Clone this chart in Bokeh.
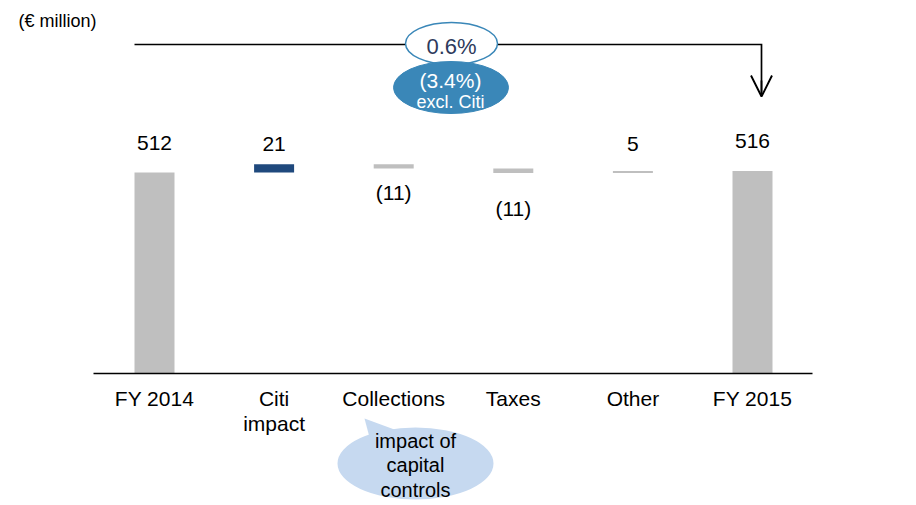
from bokeh.plotting import figure
from bokeh.models import Range1d, ColumnDataSource, Arrow, OpenHead
from bokeh.core.properties import value
from bokeh.embed import file_html
from bokeh.resources import INLINE

# ---------------- data ----------------
categories = ["FY 2014", "Citi\nimpact", "Collections", "Taxes", "Other", "FY 2015"]
changes = [512, 21, -11, -11, 5, 516]
kinds = ["total", "delta", "delta", "delta", "delta", "total"]
value_labels = ["512", "21", "(11)", "(11)", "5", "516"]
growth_label = "0.6%"
growth_excl_label = "(3.4%)"
growth_excl_note = "excl. Citi"
note_label = "impact of\ncapital\ncontrols"
unit_label = "(€ million)"

# ---------------- styles ----------------
bar_colors = ["#bfbfbf", "#1f497d", "#bfbfbf", "#bfbfbf", "#bfbfbf", "#bfbfbf"]
label_gap_px = [29, 20, 24, 36, 27, 30]
FONT = "Liberation Sans"

W, H = 916, 505
STEP = 119.6          # px between categories
PPU_Y = 0.3926        # px per € million
X0 = -154 / STEP
X1 = X0 + W / STEP
Y0 = -(H - 373) / PPU_Y
Y1 = Y0 + H / PPU_Y
ppu_x = W / (X1 - X0)
ppu_y = H / (Y1 - Y0)


def px_x(page_x):
    return X0 + page_x / ppu_x


def px_y(page_y):
    return Y1 - page_y / ppu_y


# waterfall geometry from values
bottoms, tops = [], []
running = 0
for v, k in zip(changes, kinds):
    if k == "total":
        b, t = 0, v
        running = v
    else:
        b, t = running, running + v
        running += v
    bottoms.append(min(b, t))
    tops.append(max(b, t))

idx = list(range(len(categories)))

p = figure(width=W, height=H, output_backend="svg", toolbar_location=None,
           x_range=Range1d(X0, X1), y_range=Range1d(Y0, Y1),
           x_axis_type=None, y_axis_type=None, min_border=0)
p.outline_line_color = None
p.grid.visible = False
p.background_fill_color = "white"
p.border_fill_color = "white"

bar_w = 40 / ppu_x
src = ColumnDataSource(dict(x=idx, bottom=bottoms, top=tops, color=bar_colors))
p.vbar(x="x", width=bar_w, bottom="bottom", top="top", fill_color="color",
       line_color=None, source=src)

# baseline
p.line(x=[px_x(93), px_x(812)], y=[0, 0], line_color="black", line_width=1.5)

# value labels
ly = []
for v, b, t, g in zip(changes, bottoms, tops, label_gap_px):
    if v >= 0:
        ly.append(t + g / ppu_y)
    else:
        ly.append(b - g / ppu_y)
p.text(x=idx, y=ly, text=value_labels, text_align="center", text_baseline="middle",
       text_font=value(FONT), text_font_size="21px", text_color="black")

# category labels
p.text(x=idx, y=[-13 / ppu_y] * len(idx), text=categories, text_align="center",
       text_baseline="top", text_font=value(FONT), text_font_size="21px",
       text_color="black", text_line_height=1.1)

# unit label
p.text(x=[px_x(18)], y=[px_y(20)], text=[unit_label], text_align="left",
       text_baseline="middle", text_font=value(FONT), text_font_size="18px",
       text_color="black")

# bracket with arrow
xb0 = 0 - bar_w / 2
xb1 = 5 + 9 / ppu_x
yb = px_y(44)
ytip = px_y(96)
p.line(x=[xb0, xb1, xb1], y=[yb, yb, ytip + 2 / ppu_y], line_color="black",
       line_width=1.7, line_join="miter")
p.add_layout(Arrow(end=OpenHead(size=21, line_width=1.9, line_color="black"),
                   x_start=xb1, y_start=px_y(80), x_end=xb1, y_end=ytip,
                   line_color="black", line_width=1.7))

# growth ellipses
blue = "#3a87b8"
p.ellipse(x=[px_x(451)], y=[px_y(43)], width=92, height=42, width_units="screen",
          height_units="screen", fill_color="white", line_color=blue, line_width=1.5)
p.ellipse(x=[px_x(450.5)], y=[px_y(87)], width=115, height=52, width_units="screen",
          height_units="screen", fill_color=blue, line_color=blue, line_width=1)
p.text(x=[px_x(451)], y=[px_y(46)], text=[growth_label], text_align="center",
       text_baseline="middle", text_font=value(FONT), text_font_size="22px",
       text_color="#2e3a5c")
p.text(x=[px_x(450)], y=[px_y(80)], text=[growth_excl_label], text_align="center",
       text_baseline="middle", text_font=value(FONT), text_font_size="21px",
       text_color="white")
p.text(x=[px_x(450)], y=[px_y(101)], text=[growth_excl_note], text_align="center",
       text_baseline="middle", text_font=value(FONT), text_font_size="18px",
       text_color="white")

# speech bubble
bubble = "#c6d9f0"
p.patch(x=[px_x(364), px_x(402), px_x(372)], y=[px_y(418), px_y(432), px_y(448)],
        fill_color=bubble, line_color=None)
p.ellipse(x=[px_x(415)], y=[px_y(463)], width=156, height=72, width_units="screen",
          height_units="screen", fill_color=bubble, line_color=None)
p.text(x=[px_x(415)], y=[px_y(465)], text=[note_label], text_align="center",
       text_baseline="middle", text_font=value(FONT), text_font_size="20px",
       text_color="black", text_line_height=1.1)

open("out.html", "w").write(file_html(p, INLINE))
